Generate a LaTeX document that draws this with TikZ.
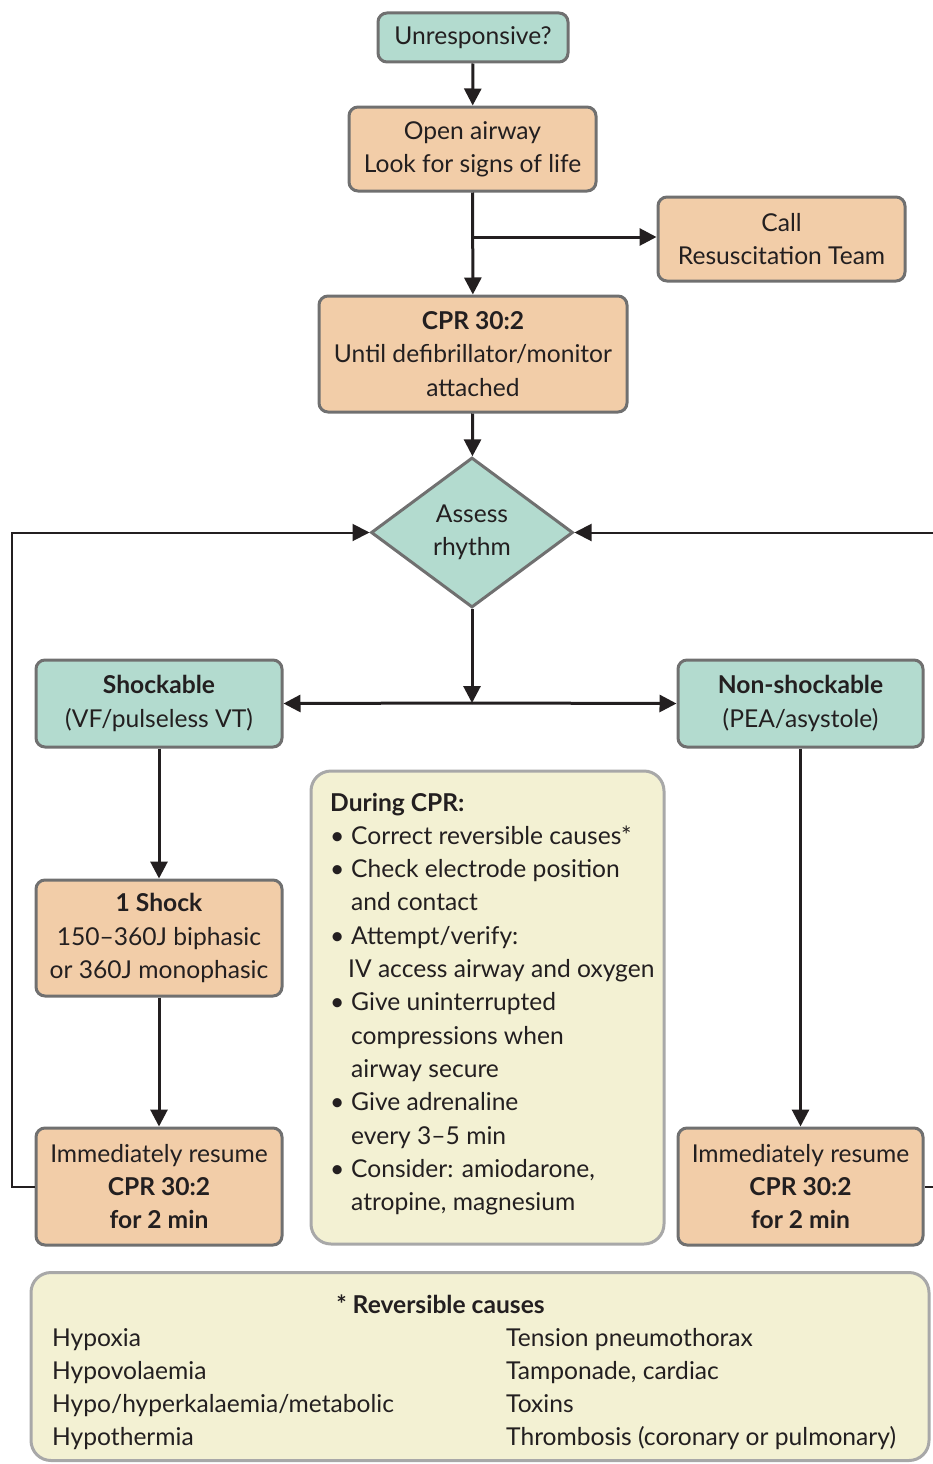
\documentclass[tikz,border=0pt]{standalone}
\usepackage{fontspec}
\setmainfont{Lato}
\usetikzlibrary{shapes.geometric,arrows.meta}
\definecolor{cteal}{HTML}{B3DBCF}
\definecolor{cpeach}{HTML}{F2CDA8}
\definecolor{ccream}{HTML}{F3F1D3}
\definecolor{cborder}{HTML}{707070}
\definecolor{clight}{HTML}{A8A8A8}
\definecolor{cink}{HTML}{231F20}
\newcommand\fs{\fontsize{24.6}{33.3}\selectfont}
\tikzset{
  box/.style={draw=cborder, line width=3pt, rounded corners=9pt, align=center, text=cink, inner sep=0pt, font=\fs},
  tealbox/.style={box, fill=cteal},
  peachbox/.style={box, fill=cpeach},
  creambox/.style={draw=clight, line width=3pt, rounded corners=20pt, fill=ccream, inner sep=0pt},
  txt/.style={text=cink, font=\fs, inner sep=0pt},
  arr/.style={draw=cink, line width=3pt, -{Triangle[length=17pt,width=17pt]}},
  loopline/.style={draw=cink, line width=2pt, -{Triangle[length=17pt,width=17pt]}},
}
\begin{document}
\begin{tikzpicture}[x=1pt,y=-1pt]
\useasboundingbox (0,0) rectangle (932,1464);
% nodes
\node[tealbox, minimum width=190pt, minimum height=49pt] (unr) at (473,37.5) {\raisebox{-1.5pt}{Unresponsive?}};
\node[peachbox, minimum width=247pt, minimum height=84pt] (open) at (472.5,149) {Open airway\\Look for signs of life};
\node[peachbox, minimum width=247pt, minimum height=84pt] (call) at (781.5,239) {Call\\Resuscitation Team};
\node[peachbox, minimum width=308pt, minimum height=116pt] (cpr) at (473,354) {\textbf{CPR 30:2}\\Until defibrillator/monitor\\attached};
\node[diamond, draw=cborder, line width=3pt, fill=cteal, text=cink, font=\fs, align=center, inner sep=0pt, minimum width=202pt, minimum height=150pt] (diam) at (472,532.5) {Assess\\rhythm};
\node[tealbox, minimum width=246pt, minimum height=87pt] (shock) at (159,703.5) {\textbf{Shockable}\\(VF/pulseless VT)};
\node[tealbox, minimum width=245pt, minimum height=87pt] (non) at (800.5,703.5) {\textbf{Non-shockable}\\(PEA/asystole)};
\node[peachbox, minimum width=246pt, minimum height=116pt] (one) at (159,938) {\textbf{1 Shock}\\150–360J biphasic\\or 360J monophasic};
\node[peachbox, minimum width=246pt, minimum height=117pt] (imL) at (159,1186.5) {Immediately resume\\\textbf{CPR 30:2}\\\textbf{for 2 min}};
\node[peachbox, minimum width=245pt, minimum height=117pt] (imR) at (800.5,1186.5) {Immediately resume\\\textbf{CPR 30:2}\\\textbf{for 2 min}};
\node[creambox, minimum width=353pt, minimum height=473pt] (during) at (487.5,1007.5) {};
\node[txt, anchor=base west] (duringtxt) at (330,811) {%
\renewcommand\arraystretch{1}\begin{tabular}[t]{@{}l@{}}
\textbf{During CPR:}\\
\makebox[21pt][l]{\textbullet}Correct reversible causes*\\
\makebox[21pt][l]{\textbullet}Check electrode position\\
\hspace{21pt}and contact\\
\makebox[21pt][l]{\textbullet}Attempt/verify:\\
\hspace{18pt}IV access airway and oxygen\\
\makebox[21pt][l]{\textbullet}Give uninterrupted\\
\hspace{21pt}compressions when\\
\hspace{21pt}airway secure\\
\makebox[21pt][l]{\textbullet}Give adrenaline\\
\hspace{21pt}every 3–5 min\\
\makebox[21pt][l]{\textbullet}Consider: amiodarone,\\
\hspace{21pt}atropine, magnesium
\end{tabular}};
\node[creambox, minimum width=898pt, minimum height=188pt] (rev) at (480,1366.5) {};
\node[txt] (revtitle) at (440.5,1304) {\textbf{* Reversible causes}};
\node[txt, anchor=base west] (revL) at (52,1346) {%
\renewcommand\arraystretch{1}\begin{tabular}[t]{@{}l@{}}
Hypoxia\\Hypovolaemia\\Hypo/hyperkalaemia/metabolic\\Hypothermia
\end{tabular}};
\node[txt, anchor=base west] (revR) at (506,1346) {%
\renewcommand\arraystretch{1}\begin{tabular}[t]{@{}l@{}}
Tension pneumothorax\\Tamponade, cardiac\\Toxins\\Thrombosis (coronary or pulmonary)
\end{tabular}};
% connectors
\coordinate (split) at (472,703);
\coordinate (branch) at (472,237);
\coordinate (lx) at (12,0);
\coordinate (rx) at (945,0);
\draw[arr] (unr) -- (open);
\draw[arr] (open) -- (cpr);
\draw[arr] (branch) -- (branch -| call.west);
\draw[arr] (cpr) -- (diam);
\draw[arr] (diam.south) -- (split);
\draw[arr] (split) -- (shock.east);
\draw[arr] (split) -- (non.west);
\draw[arr] (shock) -- (one);
\draw[arr] (one) -- (imL);
\draw[arr] (non) -- (imR);
\draw[loopline] (imL.west) -- (imL.west -| lx) -- (diam.west -| lx) -- (diam.west);
\draw[loopline] (imR.east) -- (imR.east -| rx) -- (diam.east -| rx) -- (diam.east);
\end{tikzpicture}
\end{document}
